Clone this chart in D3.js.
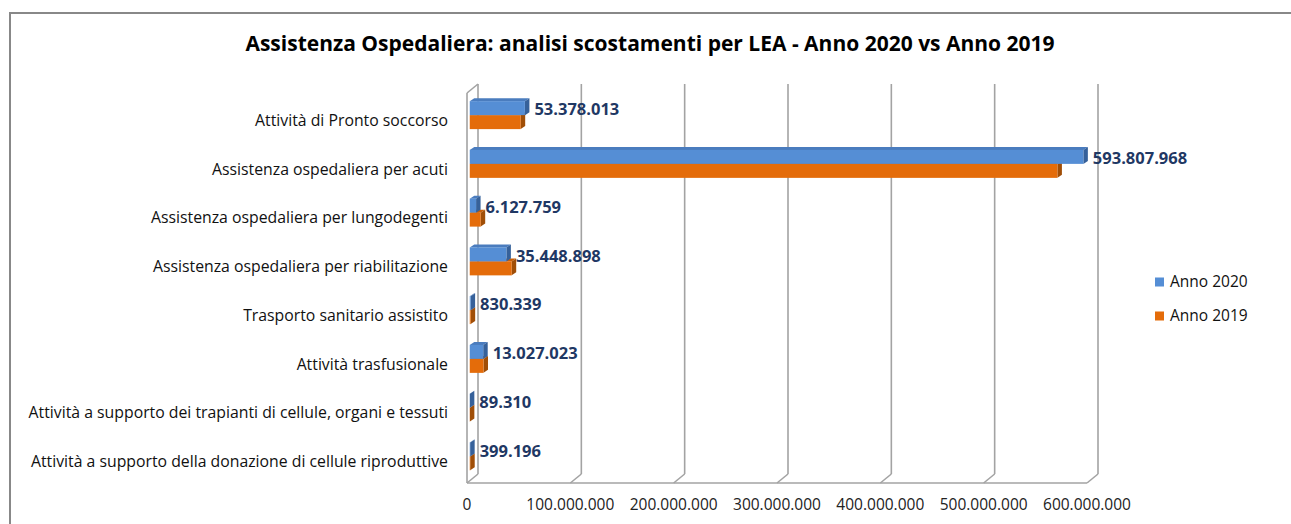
<!DOCTYPE html>
<html>
<head>
<meta charset="utf-8">
<script src="https://cdn.jsdelivr.net/npm/d3@7"></script>
<style>
  html, body { margin: 0; padding: 0; background: #fff; }
  svg { display: block; font-family: 'Open Sans', sans-serif; }
</style>
</head>
<body>
<div id="chart"></div>
<script>
'use strict';

var categories = [
  'Attività di Pronto soccorso',
  'Assistenza ospedaliera per acuti',
  'Assistenza ospedaliera per lungodegenti',
  'Assistenza ospedaliera per riabilitazione',
  'Trasporto sanitario assistito',
  'Attività trasfusionale',
  'Attività a supporto dei trapianti di cellule, organi e tessuti',
  'Attività a supporto della donazione di cellule riproduttive'
];
var anno2020 = [53378013, 593807968, 6127759, 35448898, 830339, 13027023, 89310, 399196];
var anno2019 = [49300000, 568700000, 10600000, 40600000, 900000, 13300000, 100000, 450000];
var seriesNames = ['Anno 2020', 'Anno 2019'];
var tickValues = [0, 100000000, 200000000, 300000000, 400000000, 500000000, 600000000];
var title = 'Assistenza Ospedaliera: analisi scostamenti per LEA - Anno 2020 vs Anno 2019';

var visW = 1291, visH = 524;

// floor / wall geometry (front plane + depth vector)
var frontLeft = 467, frontRight = 1087;
var plotTop = 93, plotBottom = 483;
var depthX = 11, depthY = -9;
// bars sit a bit behind the front plane
var barPlane = 0.25;
var barDX = depthX * barPlane, barDY = depthY * barPlane;
// bar extrusion
var extX = 4.5, extY = -3;

var colors = {
  blue: { front: '#558ED5', top: '#4A7CBE', side: '#36619A' },
  orange: { front: '#E46C0A', top: '#C95F08', side: '#A04E07' }
};
var gridColor = '#A3A3A3';
var labelColor = '#1F3864';

var fmt = d3.formatLocale({ decimal: ',', thousands: '.', grouping: [3], currency: ['', ''] }).format(',d');

var svg = d3.select('#chart')
  .append('svg')
  .attr('width', visW)
  .attr('height', visH);

// chart border
svg.append('rect')
  .attr('x', 10).attr('y', 13)
  .attr('width', visW + 20).attr('height', visH + 20)
  .style('fill', '#fff')
  .style('stroke', '#888')
  .style('stroke-width', 2);

svg.append('text')
  .attr('x', 650)
  .attr('y', 44)
  .attr('dy', '0.35em')
  .attr('text-anchor', 'middle')
  .attr('font-size', 21)
  .attr('font-weight', 'bold')
  .style('fill', '#000')
  .text(title);

var x = d3.scaleLinear().domain([0, 600000000]).range([frontLeft, frontRight]);
var y = d3.scaleBand().domain(categories).range([plotTop, plotBottom]);
var barH = y.bandwidth() * 0.287;

/* walls and gridlines */

var grid = svg.append('g');

tickValues.forEach(function (t) {
  var fx = x(t);
  grid.append('line')
    .attr('x1', fx + depthX).attr('y1', plotTop + depthY)
    .attr('x2', fx + depthX).attr('y2', plotBottom + depthY);
  grid.append('line')
    .attr('x1', fx + depthX).attr('y1', plotBottom + depthY)
    .attr('x2', fx).attr('y2', plotBottom);
});

// floor front edge
grid.append('line')
  .attr('x1', frontLeft).attr('y1', plotBottom)
  .attr('x2', frontRight).attr('y2', plotBottom);
// left wall
grid.append('line')
  .attr('x1', frontLeft).attr('y1', plotTop)
  .attr('x2', frontLeft).attr('y2', plotBottom);
grid.append('line')
  .attr('x1', frontLeft).attr('y1', plotTop)
  .attr('x2', frontLeft + depthX).attr('y2', plotTop + depthY);

grid.selectAll('line')
  .style('stroke', gridColor)
  .style('stroke-width', 1.6);

/* tick labels */

svg.append('g')
  .selectAll('text')
  .data(tickValues)
  .join('text')
  .attr('x', function (d) { return x(d); })
  .attr('y', 505)
  .attr('dy', '0.35em')
  .attr('text-anchor', 'middle')
  .attr('font-size', 15.5)
  .style('fill', '#222')
  .text(function (d) { return fmt(d); });

/* category labels */

svg.append('g')
  .selectAll('text')
  .data(categories)
  .join('text')
  .attr('x', 448)
  .attr('y', function (d) { return y(d) + y.bandwidth() / 2 + 3; })
  .attr('dy', '0.35em')
  .attr('text-anchor', 'end')
  .attr('font-size', 15.8)
  .style('fill', '#111')
  .text(function (d) { return d; });

/* 3D bars */

var drawBar = function drawBar(g, x0, x1, yTop, h, c) {
  // top face
  g.append('path')
    .attr('d', 'M' + x0 + ',' + yTop + 'L' + (x0 + extX) + ',' + (yTop + extY) +
      'L' + (x1 + extX) + ',' + (yTop + extY) + 'L' + x1 + ',' + yTop + 'Z')
    .style('fill', c.top);
  // side face
  g.append('path')
    .attr('d', 'M' + x1 + ',' + yTop + 'L' + (x1 + extX) + ',' + (yTop + extY) +
      'L' + (x1 + extX) + ',' + (yTop + h + extY) + 'L' + x1 + ',' + (yTop + h) + 'Z')
    .style('fill', c.side);
  // front face
  g.append('rect')
    .attr('x', x0).attr('y', yTop)
    .attr('width', Math.max(0, x1 - x0)).attr('height', h)
    .style('fill', c.front);
};

var bars = svg.append('g');

categories.forEach(function (cat, i) {
  var cy = y(cat) + y.bandwidth() / 2 + barDY;
  var x0 = x(0) + barDX;
  var blueEnd = x(anno2020[i]) + barDX;
  var orangeEnd = x(anno2019[i]) + barDX;
  drawBar(bars, x0, orangeEnd, cy, barH, colors.orange);
  drawBar(bars, x0, blueEnd, cy - barH, barH, colors.blue);

  svg.append('text')
    .attr('x', blueEnd + extX + 5)
    .attr('y', cy - barH / 2 + 1.5)
    .attr('dy', '0.35em')
    .attr('font-size', 16.5)
    .attr('font-weight', 'bold')
    .style('fill', labelColor)
    .text(fmt(anno2020[i]));
});

/* legend */

var legend = svg.append('g');
[colors.blue, colors.orange].forEach(function (c, i) {
  var ly = 282 + i * 34;
  legend.append('rect')
    .attr('x', 1155).attr('y', ly - 4.5)
    .attr('width', 9).attr('height', 9)
    .style('fill', c.front);
  legend.append('text')
    .attr('x', 1170)
    .attr('y', ly)
    .attr('dy', '0.35em')
    .attr('font-size', 15.5)
    .style('fill', '#111')
    .text(seriesNames[i]);
});
</script>
</body>
</html>
